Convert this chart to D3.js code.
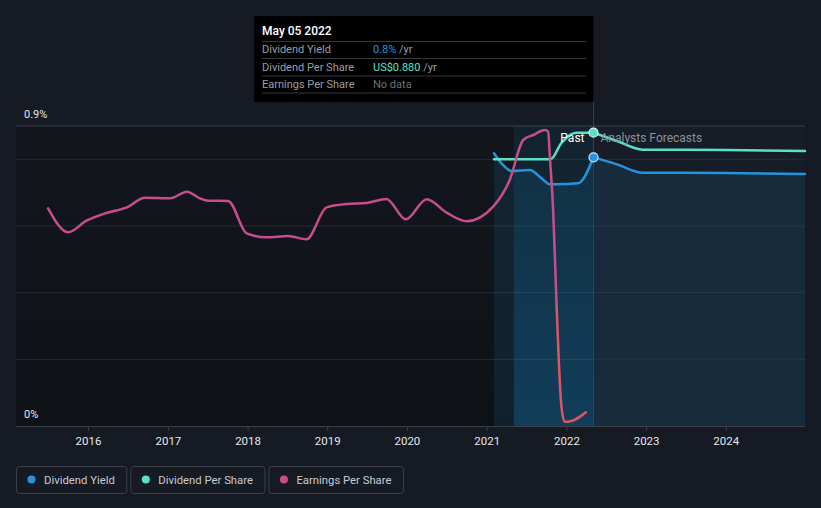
<!DOCTYPE html>
<html>
<head>
<meta charset="utf-8">
<script src="https://cdn.jsdelivr.net/npm/d3@7"></script>
<style>
  html, body { margin: 0; padding: 0; background: #151a23; }
  svg { display: block; font-family: Roboto, "Noto Sans", sans-serif; }
</style>
</head>
<body>
<svg id="chart" width="821" height="508"></svg>
<script>
// ---------- DATA ----------
const yearTicks = ["2016","2017","2018","2019","2020","2021","2022","2023","2024"];
const yTickLabels = [{v: 0.9, t: "0.9%"}, {v: 0, t: "0%"}];
const gridValues = [0.2, 0.4, 0.6, 0.8];

// Dividend Yield (%)
const dyDates  = ["2021-02-03","2021-03-12","2021-04-24","2021-07-17","2021-09-06","2021-10-17","2021-12-24","2022-02-23","2022-05-05"];
const dyValues = [0.818, 0.786, 0.765, 0.768, 0.745, 0.725, 0.726, 0.728, 0.806];
const dyFcDates  = ["2022-05-05","2022-08-20","2022-12-16","2023-12-31","2024-12-29"];
const dyFcValues = [0.806, 0.785, 0.760, 0.759, 0.756];

// Dividend Per Share (US$)
const dpsDates  = ["2021-02-03","2021-10-20","2021-12-10","2022-02-16","2022-05-05"];
const dpsValues = [0.80, 0.80, 0.85, 0.88, 0.88];
const dpsFcDates  = ["2022-05-05","2022-08-20","2022-12-16","2023-12-31","2024-12-29"];
const dpsFcValues = [0.88, 0.855, 0.829, 0.828, 0.825];

// Earnings Per Share (plotted on same scale)
const epsDates = ["2015-07-02","2015-10-02","2015-12-25","2016-03-25","2016-06-27","2016-09-18","2017-01-11","2017-03-29","2017-05-28","2017-07-05","2017-10-04","2017-12-28","2018-03-29","2018-07-06","2018-09-28","2018-12-29","2019-04-01","2019-06-30","2019-09-29","2019-12-27","2020-04-01","2020-07-01","2020-10-01","2021-01-30","2021-04-16","2021-06-17","2021-08-02","2021-09-24","2021-10-09","2021-10-17","2021-11-01","2021-11-17","2021-12-09","2021-12-24","2022-01-09","2022-03-31"];
const epsValues = [0.653,0.581,0.616,0.639,0.656,0.685,0.683,0.703,0.683,0.676,0.675,0.578,0.566,0.570,0.560,0.656,0.666,0.669,0.681,0.620,0.680,0.640,0.614,0.658,0.738,0.858,0.873,0.888,0.883,0.808,0.648,0.358,0.058,0.013,0.013,0.041];

const domainStart = "2015-02-05", domainEnd = "2024-12-29";
const pastBandStart = "2021-05-05", hoverDate = "2022-05-05";

const legendItems = [
  {label: "Dividend Yield", color: "#2394df"},
  {label: "Dividend Per Share", color: "#5ce1c9"},
  {label: "Earnings Per Share", color: "#c84d8d"}
];

// ---------- CHART ----------
const parse = d3.utcParse("%Y-%m-%d");
const svg = d3.select("#chart");
const L = 16, R = 805, T = 126, B = 426;

const x = d3.scaleUtc().domain([parse(domainStart), parse(domainEnd)]).range([L, R]);
const y = d3.scaleLinear().domain([0, 0.9]).range([B, T]);

const defs = svg.append("defs");
const gPast = defs.append("linearGradient").attr("id","pastBg").attr("x1",0).attr("x2",0).attr("y1",0).attr("y2",1);
gPast.append("stop").attr("offset","0%").attr("stop-color","#13171d");
gPast.append("stop").attr("offset","100%").attr("stop-color","#0e1116");

const gBand = defs.append("linearGradient").attr("id","band").attr("x1",0).attr("x2",0).attr("y1",0).attr("y2",1);
gBand.append("stop").attr("offset","0%").attr("stop-color","#1182be").attr("stop-opacity",0.1);
gBand.append("stop").attr("offset","100%").attr("stop-color","#1182be").attr("stop-opacity",0.3);

const gEps = defs.append("linearGradient").attr("id","epsGrad").attr("gradientUnits","userSpaceOnUse")
  .attr("x1",0).attr("x2",0).attr("y1",T).attr("y2",B);
gEps.append("stop").attr("offset","0.597").attr("stop-color","#c84d8d");
gEps.append("stop").attr("offset","0.597").attr("stop-color","#dc5660");
gEps.append("stop").attr("offset","1").attr("stop-color","#dc5660");

const xHover = x(parse(hoverDate));

// backgrounds
svg.append("rect").attr("x",0).attr("y",0).attr("width",821).attr("height",508).attr("fill","#151a23");
svg.append("rect").attr("x",L).attr("y",T).attr("width",xHover-L).attr("height",B-T).attr("fill","url(#pastBg)");
svg.append("rect").attr("x",xHover).attr("y",T).attr("width",R-xHover).attr("height",B-T).attr("fill","#171d27");

// grid
svg.append("g").selectAll("line").data(gridValues).join("line")
  .attr("x1",L).attr("x2",R).attr("y1",d=>y(d)).attr("y2",d=>y(d))
  .attr("stroke","#262b34").attr("stroke-width",1);
svg.append("line").attr("x1",L).attr("x2",R).attr("y1",y(0.9)).attr("y2",y(0.9))
  .attr("stroke","#3b4049").attr("stroke-width",1);

// yield area
const dyAll = dyDates.map((d,i)=>({d:parse(d), v:dyValues[i]}))
  .concat(dyFcDates.slice(1).map((d,i)=>({d:parse(d), v:dyFcValues[i+1]})));
svg.append("path").datum(dyAll)
  .attr("d", d3.area().x(d=>x(d.d)).y0(B).y1(d=>y(d.v)).curve(d3.curveMonotoneX))
  .attr("fill","#2394df").attr("fill-opacity",0.12);

// past band
const xBand = x(parse(pastBandStart));
svg.append("rect").attr("x",xBand).attr("y",T).attr("width",xHover-xBand).attr("height",B-T).attr("fill","url(#band)");

// hover line
svg.append("line").attr("x1",xHover).attr("x2",xHover).attr("y1",100).attr("y2",B)
  .attr("stroke","#2a4556").attr("stroke-width",1);

// x axis
const xAxis = d3.axisBottom(x)
  .tickValues(yearTicks.map(t=>parse(t+"-01-01")))
  .tickFormat(d3.utcFormat("%Y")).tickSize(5).tickPadding(6);
const gx = svg.append("g").attr("transform",`translate(0,${B})`).call(xAxis);
gx.select(".domain").attr("stroke","#3b4049").attr("d",`M${L},0.5H${R}`);
gx.selectAll(".tick line").attr("stroke","#3b4049");
gx.selectAll(".tick text").attr("fill","#e6e8eb").attr("font-size","11.5px").attr("font-family","Roboto, sans-serif");

// y labels
svg.append("g").selectAll("text").data(yTickLabels).join("text")
  .attr("x",24).attr("y",d=>y(d.v)-8).attr("fill","#e6e8eb").attr("font-size","11px").text(d=>d.t);

// lines
const line = d3.line().x(d=>x(d.d)).y(d=>y(d.v)).curve(d3.curveMonotoneX);
function drawLine(dates, vals, color) {
  svg.append("path").datum(dates.map((d,i)=>({d:parse(d), v:vals[i]})))
    .attr("d", line).attr("fill","none").attr("stroke",color)
    .attr("stroke-width",2.5).attr("stroke-linecap","round").attr("stroke-linejoin","round");
}
drawLine(dyDates, dyValues, "#2394df");
drawLine(dyFcDates, dyFcValues, "#2394df");
drawLine(dpsDates, dpsValues, "#5ce1c9");
drawLine(dpsFcDates, dpsFcValues, "#5ce1c9");
drawLine(epsDates, epsValues, "url(#epsGrad)");

// dots
svg.append("circle").attr("cx",xHover).attr("cy",y(dyValues[dyValues.length-1])).attr("r",4.5)
  .attr("fill","#2394df").attr("stroke","#cfe6f5").attr("stroke-width",1.2);
svg.append("circle").attr("cx",xHover).attr("cy",y(dpsValues[dpsValues.length-1])).attr("r",4.5)
  .attr("fill","#5ce1c9").attr("stroke","#d8f7f1").attr("stroke-width",1.2);

// Past / Analysts Forecasts labels
svg.append("text").attr("x",xHover-9).attr("y",142).attr("text-anchor","end")
  .attr("fill","#ffffff").attr("font-size","12px").text("Past");
svg.append("text").attr("x",xHover+7).attr("y",142)
  .attr("fill","#8b9099").attr("font-size","12px").text("Analysts Forecasts");

// tooltip
const tt = svg.append("g");
tt.append("rect").attr("x",254).attr("y",16).attr("width",xHover-254).attr("height",86).attr("fill","#000000");
tt.append("text").attr("x",262).attr("y",35).attr("fill","#ffffff").attr("font-size","12px").attr("font-weight","500").text("May 05 2022");
[41.5, 58.5, 76, 93].forEach(yy=>{
  tt.append("line").attr("x1",262).attr("x2",586).attr("y1",yy).attr("y2",yy).attr("stroke","#34373c").attr("stroke-width",1);
});
const rows = [
  {label:"Dividend Yield", val:"0.8%", col:"#2394df", unit:" /yr", y:53},
  {label:"Dividend Per Share", val:"US$0.880", col:"#5ce1c9", unit:" /yr", y:70.5},
  {label:"Earnings Per Share", val:"No data", col:"#6c7077", unit:"", y:88}
];
rows.forEach(r=>{
  tt.append("text").attr("x",262).attr("y",r.y).attr("fill","#9a9ea5").attr("font-size","11px").text(r.label);
  const t = tt.append("text").attr("x",373).attr("y",r.y).attr("font-size","11px");
  t.append("tspan").attr("fill",r.col).text(r.val);
  if (r.unit) t.append("tspan").attr("fill","#9a9ea5").text(r.unit);
});

// legend
const lg = svg.append("g");
let lx = 16.5;
legendItems.forEach(it=>{
  const g = lg.append("g");
  const txt = g.append("text").attr("x",lx+27.5).attr("y",483.5).attr("fill","#c9ccd1").attr("font-size","11.3px").text(it.label);
  const w = txt.node().getComputedTextLength() + 27.5 + 12;
  g.insert("rect","text").attr("x",lx).attr("y",466.5).attr("width",w).attr("height",27).attr("rx",3)
    .attr("fill","none").attr("stroke","#3b4049");
  g.append("circle").attr("cx",lx+15).attr("cy",479.5).attr("r",4).attr("fill",it.color);
  lx += w + 4;
});
</script>
</body>
</html>
